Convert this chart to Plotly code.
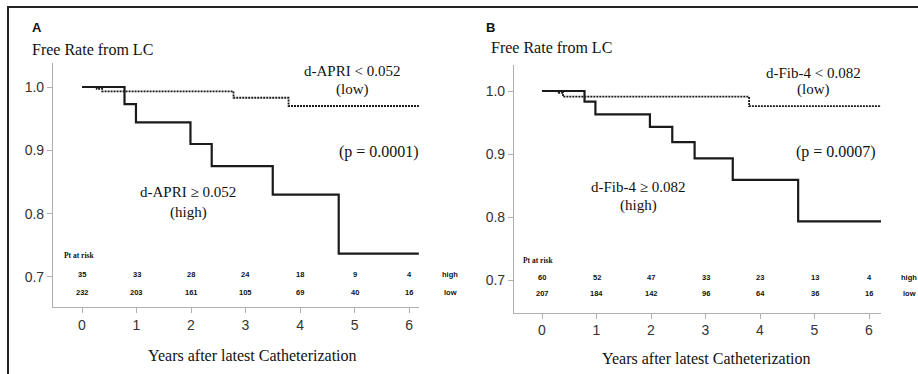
import plotly.graph_objects as go

# ---------------- data ----------------
years_ticks = [0, 1, 2, 3, 4, 5, 6]
y_ticks = [0.7, 0.8, 0.9, 1.0]

# Panel A (d-APRI)
a_high_t = [0, 0.78, 0.99, 1.99, 2.38, 3.50, 4.71, 6.18]
a_high_s = [1.0, 0.973, 0.944, 0.910, 0.875, 0.830, 0.737, 0.737]
a_low_t = [0, 0.27, 0.37, 2.78, 3.79, 6.18]
a_low_s = [1.0, 0.997, 0.993, 0.983, 0.970, 0.970]
a_risk_high = [35, 33, 28, 24, 18, 9, 4]
a_risk_low = [232, 203, 161, 105, 69, 40, 16]

# Panel B (d-Fib-4)
b_high_t = [0, 0.78, 0.98, 1.98, 2.39, 2.80, 3.50, 4.70, 6.22]
b_high_s = [1.0, 0.983, 0.963, 0.943, 0.919, 0.893, 0.859, 0.793, 0.793]
b_low_t = [0, 0.29, 0.385, 3.80, 6.22]
b_low_s = [1.0, 0.997, 0.991, 0.976, 0.976]
b_risk_high = [60, 52, 47, 33, 23, 13, 4]
b_risk_low = [207, 184, 142, 96, 64, 36, 16]

W, H = 918, 374
SERIF = "Liberation Serif"
SANS = "Liberation Sans"


def px(x):
    return x / W


def py(y):
    return 1 - y / H


fig = go.Figure()

line_col = "#1a1a1a"
for t, s, xa, ya in [(a_high_t, a_high_s, "x", "y"), (b_high_t, b_high_s, "x2", "y2")]:
    fig.add_trace(go.Scatter(x=t, y=s, mode="lines", line_shape="hv",
                             line=dict(color=line_col, width=2.2),
                             xaxis=xa, yaxis=ya, showlegend=False, hoverinfo="skip"))
for t, s, xa, ya in [(a_low_t, a_low_s, "x", "y"), (b_low_t, b_low_s, "x2", "y2")]:
    fig.add_trace(go.Scatter(x=t, y=s, mode="lines", line_shape="hv",
                             line=dict(color=line_col, width=1.8, dash="2px,1px"),
                             xaxis=xa, yaxis=ya, showlegend=False, hoverinfo="skip"))

axis_common = dict(showgrid=False, zeroline=False, showline=True, linecolor="#b0b0b0",
                   linewidth=1.2, ticks="outside", ticklen=5, tickcolor="#b0b0b0",
                   tickwidth=1.2, tickfont=dict(family=SANS, size=14, color="#333333"),
                   fixedrange=True)

fig.update_layout(
    width=W, height=H, margin=dict(l=0, r=0, t=0, b=0),
    paper_bgcolor="white", plot_bgcolor="white",
    xaxis=dict(domain=[px(53), px(419)], range=[-0.532, 6.183], anchor="y",
               tickvals=years_ticks, **axis_common),
    yaxis=dict(domain=[py(307), py(63)], range=[0.6526, 1.0379], anchor="x",
               tickvals=y_ticks, tickformat=".1f", **axis_common),
    xaxis2=dict(domain=[px(514), px(881)], range=[-0.514, 6.22], anchor="y2",
                tickvals=years_ticks, **axis_common),
    yaxis2=dict(domain=[py(312.5), py(65)], range=[0.6484, 1.0413], anchor="x2",
                tickvals=y_ticks, tickformat=".1f", **axis_common),
)

ann = []


def text(x, y, s, size=15, family=SERIF, xanchor="center", bold=False, xref="paper", yref="paper"):
    ann.append(dict(x=x, y=y, xref=xref, yref=yref, text=("<b>%s</b>" % s) if bold else s,
                    showarrow=False, xanchor=xanchor, yanchor="middle",
                    font=dict(family=family, size=size, color="#111111")))


# Panel labels and titles
text(px(30), py(28), "A", size=13, family=SANS, xanchor="left", bold=True)
text(px(484), py(28), "B", size=13, family=SANS, xanchor="left", bold=True)
text(px(30), py(50), "Free Rate from LC", size=16, xanchor="left")
text(px(489), py(47), "Free Rate from LC", size=16, xanchor="left")
text(px(252), py(355), "Years after latest Catheterization", size=16)
text(px(706), py(358), "Years after latest Catheterization", size=16)

# Group labels A
text(px(352), py(71), "d-APRI &lt; 0.052", size=15)
text(px(352), py(89), "(low)", size=15)
text(px(379), py(152), "(p = 0.0001)", size=16)
text(px(188), py(192), "d-APRI ≥ 0.052", size=15)
text(px(188), py(212), "(high)", size=15)

# Group labels B
text(px(813), py(73), "d-Fib-4 &lt; 0.082", size=15)
text(px(813), py(90), "(low)", size=15)
text(px(836), py(152), "(p = 0.0007)", size=16)
text(px(638), py(187), "d-Fib-4 ≥ 0.082", size=15)
text(px(638), py(205), "(high)", size=15)

# Numbers at risk
text(px(62), py(256), "Pt at risk", size=7.5, family=SERIF, xanchor="left", bold=True)
text(px(521), py(260), "Pt at risk", size=7.5, family=SERIF, xanchor="left", bold=True)
for i, t in enumerate(years_ticks):
    text(t, py(274), str(a_risk_high[i]), size=7.5, family=SANS, bold=True, xref="x")
    text(t, py(292.5), str(a_risk_low[i]), size=7.5, family=SANS, bold=True, xref="x")
    text(t, py(277), str(b_risk_high[i]), size=7.5, family=SANS, bold=True, xref="x2")
    text(t, py(293.5), str(b_risk_low[i]), size=7.5, family=SANS, bold=True, xref="x2")
text(px(450), py(274), "high", size=7.5, family=SANS, bold=True)
text(px(450), py(292.5), "low", size=7.5, family=SANS, bold=True)
text(px(909), py(277), "high", size=7.5, family=SANS, bold=True)
text(px(909), py(293.5), "low", size=7.5, family=SANS, bold=True)

fig.update_layout(annotations=ann)

# Frame lines (top and left)
fig.add_shape(type="line", xref="paper", yref="paper", x0=px(7), x1=1.0, y0=py(7), y1=py(7),
              line=dict(color="#222222", width=2))
fig.add_shape(type="line", xref="paper", yref="paper", x0=px(8), x1=px(8), y0=py(6), y1=0,
              line=dict(color="#222222", width=2))

fig.write_html("out.html", config={"displayModeBar": False},
               post_script="document.body.style.margin='0';document.body.style.overflow='hidden';")
